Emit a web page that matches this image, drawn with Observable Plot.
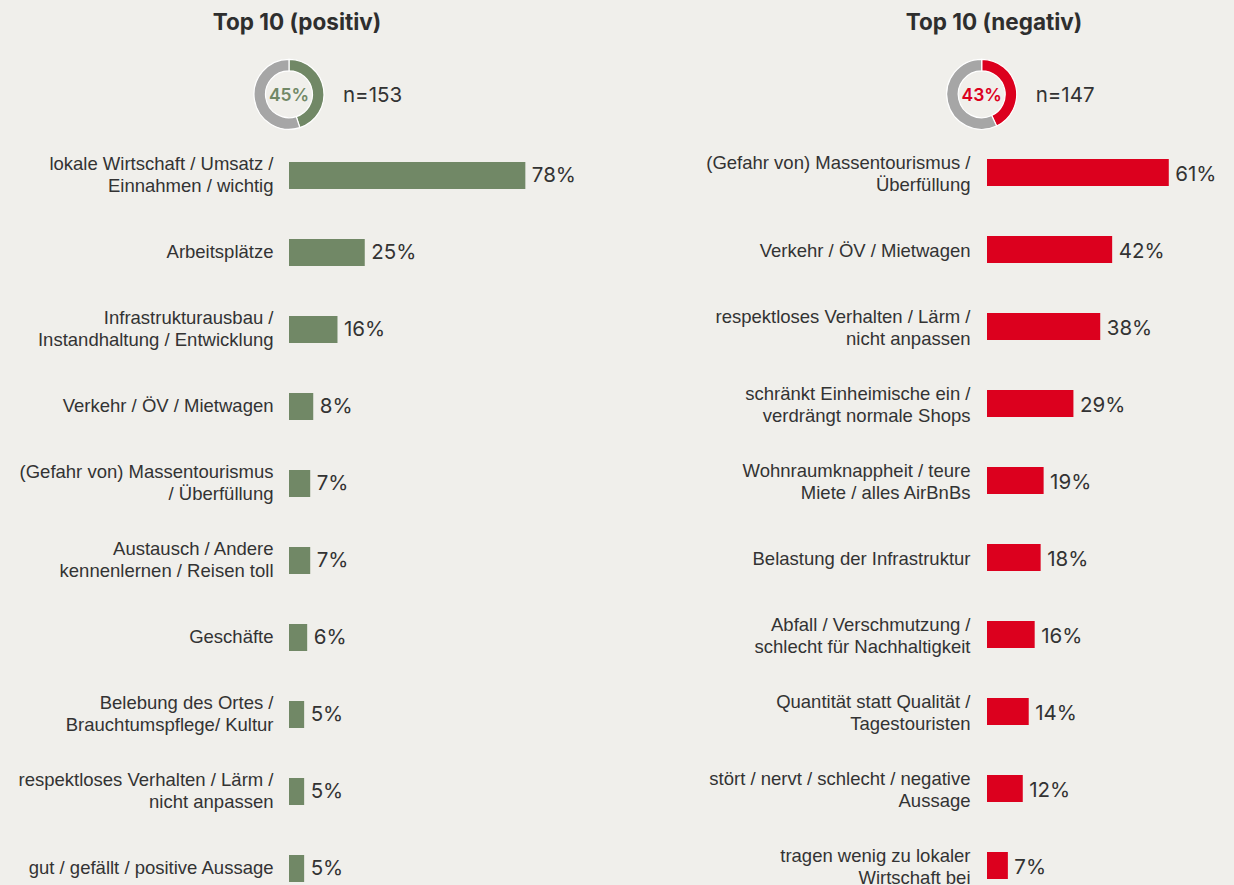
<!DOCTYPE html>
<html>
<head>
<meta charset="utf-8">
<script src="https://cdn.jsdelivr.net/npm/d3@7"></script>
<script src="https://cdn.jsdelivr.net/npm/@observablehq/plot@0.6"></script>
<style>
  html, body { margin: 0; padding: 0; background: #f0efeb; }
  #page { position: relative; width: 1234px; height: 885px; overflow: hidden; background: #f0efeb; }
  .title { position: absolute; top: 4px; height: 41px; line-height: 36px; font-family: Inter, "DejaVu Sans", sans-serif; font-weight: 700; font-size: 22.5px; color: #2e2e2e; transform: translateX(-50%); white-space: nowrap; }
  .panel { position: absolute; top: 45px; width: 617px; height: 840px; }
  .panel svg { overflow: visible; }
</style>
</head>
<body>
<div id="page">
  <div class="title" id="t-pos" style="left:297px">Top 10 (positiv)</div>
  <div class="title" id="t-neg" style="left:994px">Top 10 (negativ)</div>
  <div class="panel" id="p-pos" style="left:0px"></div>
  <div class="panel" id="p-neg" style="left:617px"></div>
</div>
<script>
// ---- data ----
const posLabels = [
  "lokale Wirtschaft / Umsatz /\nEinnahmen / wichtig",
  "Arbeitsplätze",
  "Infrastrukturausbau /\nInstandhaltung / Entwicklung",
  "Verkehr / ÖV / Mietwagen",
  "(Gefahr von) Massentourismus\n/ Überfüllung",
  "Austausch / Andere\nkennenlernen / Reisen toll",
  "Geschäfte",
  "Belebung des Ortes /\nBrauchtumspflege/ Kultur",
  "respektloses Verhalten / Lärm /\nnicht anpassen",
  "gut / gefällt / positive Aussage"
];
const posValues = [78, 25, 16, 8, 7, 7, 6, 5, 5, 5];

const negLabels = [
  "(Gefahr von) Massentourismus /\nÜberfüllung",
  "Verkehr / ÖV / Mietwagen",
  "respektloses Verhalten / Lärm /\nnicht anpassen",
  "schränkt Einheimische ein /\nverdrängt normale Shops",
  "Wohnraumknappheit / teure\nMiete / alles AirBnBs",
  "Belastung der Infrastruktur",
  "Abfall / Verschmutzung /\nschlecht für Nachhaltigkeit",
  "Quantität statt Qualität /\nTagestouristen",
  "stört / nervt / schlecht / negative\nAussage",
  "tragen wenig zu lokaler\nWirtschaft bei"
];
const negValues = [61, 42, 38, 29, 19, 18, 16, 14, 12, 7];

const posShare = 45, negShare = 43;
const posN = 153, negN = 147;

const GREEN = "#718866", RED = "#dc001e", GREY = "#a6a6a6", TEXT = "#333333";

function donutMark(share, n, color, cxOffset) {
  return (index, scales, values, dims) => {
    const cx = scales.x(0) + cxOffset, cy = 49.3;
    const g = d3.create("svg:g");
    const slices = d3.pie().sort(null).value(d => d.value)([
      {key: "share", value: share},
      {key: "rest", value: 100 - share}
    ]);
    const arc = d3.arc().innerRadius(23.5).outerRadius(35);
    g.append("g").attr("transform", `translate(${cx},${cy})`)
      .selectAll("path").data(slices).join("path")
      .attr("d", arc)
      .attr("fill", d => d.data.key === "share" ? color : GREY)
      .attr("stroke", "#ffffff").attr("stroke-width", 1.2);
    g.append("text")
      .attr("x", cx).attr("y", cy).attr("dy", "0.36em")
      .attr("text-anchor", "middle")
      .attr("font-family", "Inter, sans-serif").attr("font-weight", 600)
      .attr("font-size", 17.5).attr("fill", color)
      .text(share + "%");
    g.append("text")
      .attr("x", cx + 54).attr("y", cy).attr("dy", "0.36em")
      .attr("text-anchor", "start")
      .attr("font-family", "Inter, sans-serif")
      .attr("font-size", 20.5).attr("fill", TEXT)
      .text("n=" + n);
    return g.node();
  };
}

function panel(labels, values, color, xRange, yRange, share, n, cxOffset, labelGap, labelDy, valueDy) {
  const data = labels.map((label, i) => ({label, value: values[i]}));
  return Plot.plot({
    width: 617,
    height: 840,
    margin: 0,
    style: {background: "transparent", overflow: "visible"},
    x: {domain: [0, 100], range: xRange, axis: null},
    y: {domain: labels, range: yRange, padding: 0, axis: null},
    marks: [
      Plot.barX(data, {x: "value", y: "label", fill: color, insetTop: 25, insetBottom: 25}),
      Plot.text(data, {
        x: 0, y: "label", text: "label", textAnchor: "end", dx: -labelGap, dy: labelDy,
        fontFamily: "'Liberation Sans', Arial, sans-serif", fontSize: 18.5,
        lineHeight: 1.19, fill: TEXT
      }),
      Plot.text(data, {
        x: "value", y: "label", text: d => d.value + "%", textAnchor: "start", dx: 6, dy: valueDy,
        fontFamily: "Inter, sans-serif", fontSize: 20.5, fill: TEXT
      }),
      donutMark(share, n, color, cxOffset)
    ]
  });
}

document.getElementById("p-pos").append(
  panel(posLabels, posValues, GREEN, [289, 592], [90.4, 862.8], posShare, posN, 0, 16, -2.5, -0.5)
);
document.getElementById("p-neg").append(
  panel(negLabels, negValues, RED, [370, 668], [88.4, 860.4], negShare, negN, -5.3, 17, -0.5, 1)
);
</script>
</body>
</html>
